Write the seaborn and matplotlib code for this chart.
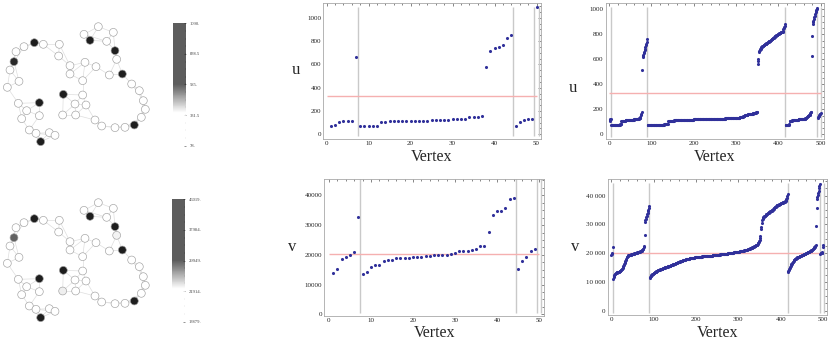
import numpy as np
import pandas as pd
import matplotlib
matplotlib.use("Agg")
import matplotlib.pyplot as plt
import seaborn as sns
from matplotlib.colors import LinearSegmentedColormap, Normalize
from matplotlib.ticker import MultipleLocator, FixedLocator
import matplotlib.colorbar as mcolorbar

sns.set_style("white")
plt.rcParams['font.family'] = ['Liberation Serif', 'DejaVu Serif']

# ---------------- data: 50-vertex graph ----------------
u50 = [71, 77, 106, 111, 111, 117, 666, 71, 71, 71, 74, 74, 106, 108, 111, 111, 114, 114, 114, 114,
       114, 114, 117, 117, 120, 120, 120, 123, 123, 131, 134, 134, 134, 146, 149, 151, 157, 574, 711, 737,
       751, 763, 831, 851, 71, 108, 120, 131, 134, 1089]
v50 = [13940, 15180, 18700, 19150, 19830, 20850, 32630, 13600, 14280, 15860, 16430, 16540, 18020, 18130, 18240,
       18810, 18920, 18920, 19040, 19150, 19260, 19380, 19600, 19720, 19830, 19830, 19940, 20060, 20280, 20620,
       21300, 21300, 21300, 21640, 21870, 23000, 23120, 27760, 33430, 34670, 34900, 35700, 38640, 39090, 15180,
       17790, 19150, 21300, 21870, 46019]
bounds50 = [7.5, 44.5, 49.5, 50.5]
u_thr = 331
v_thr = 20200
u_range = (78, 1090)
v_range = (13879, 46019)
u_cb_ticks = [78, 331.5, 585, 838.5, 1090]
u_cb_labels = ['78.', '331.5', '585.', '838.5', '1090.']
v_cb_ticks = [13879, 21914, 29949, 37984, 46019]
v_cb_labels = ['13879.', '21914.', '29949.', '37984.', '46019.']

# graph layout (node positions) and vertex of each node
node_x = [103, 270, 345, 42, 367, 190, 118, 403, 122,
          295, 340, 252, 320, 130, 178, 72, 48, 176, 350,
          30, 255, 210, 288, 328, 210, 248, 57, 22, 395,
          418, 248, 430, 55, 225, 258, 436, 80, 118, 188,
          227, 65, 424, 285, 305, 345, 375, 88, 108, 148, 165]
node_y = [128, 121, 152, 185, 222, 283, 308, 375, 425,
          80, 97, 103, 124, 133, 133, 140, 155, 168, 178,
          210, 187, 197, 200, 225, 222, 242, 244, 262, 252,
          272, 285, 302, 310, 312, 315, 328, 332, 347, 345,
          345, 356, 352, 360, 378, 383, 382, 390, 400, 398, 406]
node_vertex = [7, 39, 40, 38, 41, 42, 43, 44, 50,
               1, 2, 3, 4, 5, 6, 8, 9, 10, 36,
               11, 12, 13, 14, 15, 16, 17, 18, 19, 20,
               21, 22, 23, 24, 25, 26, 27, 28, 29, 37,
               30, 31, 32, 33, 34, 35, 45, 46, 47, 48, 49]

# ---------------- data: 500-vertex graph ----------------
uA = [108, 115, 120, 125]
uB = [72, 72, 72, 73, 73, 73, 74, 74, 74, 74, 75, 75, 75, 75, 76, 76, 76, 77, 77, 78, 78, 79, 81, 84,
      104, 105, 106, 107, 108, 108, 109, 109, 110, 110, 111, 111, 112, 112, 113, 113, 113, 114, 114, 115, 115,
      115, 116, 116, 116, 117, 117, 118, 118, 118, 119, 119, 120, 120, 121, 121, 122, 122, 123, 124, 125, 126,
      127, 128, 129,
      138, 152, 166, 182,
      512, 618, 628, 638, 648, 660, 672, 686, 700, 712, 724, 742, 760]
uC = [72, 72, 72, 72, 72, 73, 73, 73, 73, 73, 73, 74, 74, 74, 74, 74, 74, 75, 75, 75, 75, 75, 75, 76, 76,
      76, 76, 76, 76, 77, 77, 77, 77, 77, 78, 78, 78, 78, 78, 79, 79, 79, 79, 80, 80, 80, 82, 82, 84,
      105, 106, 107, 107, 108, 108, 108, 109, 109, 109, 110, 110, 110, 110, 111, 111, 111, 111, 112, 112,
      112, 112, 113, 113, 113, 113, 113, 114, 114, 114, 114, 114, 115, 115, 115, 115, 115, 115, 116, 116,
      116, 116, 116, 116, 116, 117, 117, 117, 117, 117, 117, 117, 118, 118, 118, 118, 118, 118, 118, 118,
      119, 119, 119, 119, 119, 119, 119, 119, 120, 120, 120, 120, 120, 120, 120, 120, 120, 121, 121, 121,
      121, 121, 121, 121, 121, 121, 121, 122, 122, 122, 122, 122, 122, 122, 122, 122, 122, 123, 123, 123,
      123, 123, 123, 123, 123, 123, 123, 123, 124, 124, 124, 124, 124, 124, 124, 124, 124, 125, 125, 125,
      125, 125, 125, 125, 125, 125, 125, 126, 126, 126, 126, 126, 126, 126, 126, 127, 127, 127, 127, 127,
      127, 127, 128, 128, 128, 128, 128, 128, 129, 129, 129, 129, 129, 130, 130, 130, 130, 130, 131, 131,
      131, 131, 132, 132, 132, 133, 133, 134, 134, 135, 136, 137, 138, 139, 140, 141, 142, 143, 144,
      148, 150, 152, 153, 154, 155, 156, 157, 158, 159, 160, 160, 161, 162, 162, 163, 164, 164, 165, 166,
      166, 167, 168, 168, 169, 170, 171, 172, 173, 175, 177, 180,
      565, 590, 600, 655, 665, 672, 679, 685, 690, 695, 700, 703, 706, 709, 712, 714, 717, 719, 721, 723,
      725, 728, 730, 733, 735, 738, 740, 743, 745, 748, 750, 753, 756, 759, 762, 765, 768, 771, 774, 777,
      780, 783, 786, 789, 792, 794, 796, 798, 800, 802, 805, 807, 809, 811, 813, 815, 816, 818, 820, 822,
      830, 840, 850, 860, 870, 880]
uD = [72, 72, 73, 73, 74, 74, 75, 76, 78, 80,
      106, 107, 108, 109, 110, 110, 111, 112, 112, 113, 113, 114, 114, 115, 115, 116, 116, 117, 117, 118,
      118, 119, 119, 120, 120, 121, 121, 122, 122, 123, 123, 124, 124, 125, 125, 126, 126, 127, 127, 128,
      135, 140, 145, 148, 150, 152, 155, 158, 162, 168, 175, 182,
      630, 790, 880, 895, 910, 920, 935, 950, 960, 975, 985, 995, 1000, 1010]
uE = [130, 140, 145, 150, 155, 160, 165, 170]

vA = [19400, 19700, 20100, 22200]
vB = [11000, 11600, 12200, 12500, 12700, 12900, 13000, 13100, 13200, 13300,
      13350, 13400, 13450, 13500, 13600, 13700, 13800, 13900, 14000, 14200,
      14400, 14600, 14900, 15200, 15500, 15800, 16100, 16500, 16900, 17300,
      17700, 18100, 18500, 18800, 19000, 19100, 19200, 19250, 19300, 19350,
      19400, 19450, 19500, 19550, 19600, 19650, 19700, 19750, 19800, 19850,
      19900, 19950, 20000, 20050, 20100, 20150, 20200, 20250, 20300, 20350,
      20400, 20450, 20500, 20550, 20600, 20700, 20800, 20900, 21000, 21100,
      21300, 21600, 22000, 22400, 26400, 30900, 31500, 32000, 32500, 33000,
      33500, 34000, 34500, 35000, 35700, 36500]
vC = [11500, 11800, 12000, 12200, 12300, 12500, 12600, 12700, 12850, 13000,
      13100, 13200, 13300, 13400, 13500, 13600, 13700, 13800, 13900, 14000,
      14060, 14120, 14180, 14240, 14300, 14360, 14420, 14480, 14540, 14600,
      14660, 14720, 14780, 14840, 14900, 14960, 15020, 15080, 15140, 15200,
      15250, 15300, 15350, 15400, 15450, 15500, 15550, 15600, 15650, 15700,
      15760, 15820, 15880, 15940, 16000, 16060, 16120, 16180, 16240, 16300,
      16370, 16440, 16510, 16580, 16650, 16720, 16790, 16860, 16930, 17000,
      17050, 17100, 17150, 17200, 17250, 17300, 17350, 17400, 17450, 17500,
      17550, 17600, 17650, 17700, 17750, 17800, 17850, 17900, 17950, 18000,
      18030, 18060, 18090, 18120, 18150, 18180, 18210, 18240, 18270, 18300,
      18330, 18360, 18390, 18420, 18450, 18480, 18510, 18540, 18570, 18600,
      18620, 18630, 18650, 18670, 18680, 18700, 18720, 18730, 18750, 18760,
      18780, 18790, 18810, 18820, 18840, 18850, 18870, 18880, 18890, 18900,
      18920, 18930, 18950, 18960, 18980, 18990, 19010, 19020, 19040, 19050,
      19070, 19080, 19100, 19110, 19130, 19140, 19160, 19170, 19190, 19200,
      19220, 19240, 19260, 19280, 19300, 19320, 19340, 19360, 19380, 19400,
      19420, 19440, 19460, 19480, 19500, 19520, 19540, 19560, 19580, 19600,
      19620, 19640, 19660, 19680, 19700, 19720, 19740, 19760, 19780, 19800,
      19820, 19840, 19860, 19880, 19900, 19920, 19940, 19960, 19980, 20000,
      20030, 20050, 20080, 20100, 20130, 20150, 20180, 20200, 20230, 20250,
      20280, 20300, 20330, 20350, 20380, 20400, 20430, 20450, 20480, 20500,
      20530, 20560, 20590, 20620, 20650, 20680, 20710, 20740, 20770, 20800,
      20840, 20880, 20920, 20960, 21000, 21040, 21080, 21120, 21160, 21200,
      21260, 21320, 21380, 21440, 21500, 21560, 21620, 21680, 21740, 21800,
      21880, 21960, 22040, 22120, 22200, 22280, 22360, 22440, 22520, 22600,
      22700, 22800, 22900, 23000, 23200, 23400, 23600, 23900, 24200, 24600,
      25200, 26000, 28300, 29000, 30500, 31500, 31900, 32200, 32400, 32600,
      32750, 32900, 33050, 33200, 33350, 33500, 33600, 33700, 33850, 34000,
      34100, 34200, 34300, 34400, 34500, 34600, 34700, 34800, 34900, 35000,
      35150, 35300, 35450, 35600, 35750, 35900, 36050, 36200, 36350, 36500,
      36580, 36660, 36740, 36820, 36900, 36980, 37060, 37140, 37220, 37300,
      37370, 37440, 37510, 37580, 37650, 37720, 37790, 37860, 37930, 38000,
      38200, 38500, 38900, 39300, 39900, 40700]
vD = [13500, 13900, 14300, 14600, 14900, 15200, 15500, 15800, 16100, 16400,
      16650, 16900, 17100, 17300, 17500, 17650, 17800, 17950, 18100, 18200,
      18300, 18400, 18500, 18580, 18660, 18740, 18820, 18900, 18970, 19040,
      19110, 19180, 19250, 19320, 19390, 19460, 19530, 19600, 19670, 19740,
      19810, 19880, 19950, 20020, 20090, 20160, 20230, 20300, 20380, 20460,
      20540, 20620, 20700, 20800, 20900, 21000, 21100, 21250, 21400, 21550,
      21700, 21900, 22100, 22300, 22600, 23000,
      29500, 35800, 38800, 39600, 40300, 41000, 41700, 42500, 43300, 44100]
vE = [19800, 19900, 20000, 20100, 20200, 20400, 22300, 22700]
bounds500 = [4.5, 90.5, 416.5, 492.5, 500.5]

u500 = uA + uB + uC + uD + uE
v500 = vA + vB + vC + vD + vE

# ---------------- figure ----------------
W, H = 830, 346
fig = plt.figure(figsize=(W / 100, H / 100), dpi=100)
fig.patch.set_facecolor('white')


def rect(l, t, r, b):
    return [l / W, 1 - b / H, (r - l) / W, (b - t) / H]


DOT = '#30309a'
GREY = '#c9c9c9'
RED = '#f5b0b0'

node_cmap = LinearSegmentedColormap.from_list(
    'g', [(0.0, '#ffffff'), (0.27, '#ffffff'), (0.5, '#1e1e1e'), (1.0, '#1e1e1e')])

# edges from layout: each node linked to its nearest neighbours
P = np.c_[node_x, node_y].astype(float)
D = np.hypot(P[:, None, 0] - P[None, :, 0], P[:, None, 1] - P[None, :, 1])
edges = set()
for i in range(len(P)):
    for j in np.argsort(D[i])[1:4]:
        if D[i, j] < 75:
            edges.add(tuple(sorted((i, int(j)))))


def draw_graph(top, values, vrange):
    ax = fig.add_axes(rect(0, top, 160, top + 160))
    for i, j in edges:
        ax.plot([node_x[i], node_x[j]], [node_y[i], node_y[j]], color='#dedede', lw=0.5, zorder=1)
    norm = Normalize(*vrange)
    cols = [node_cmap(norm(values[v - 1])) for v in node_vertex]
    ax.scatter(node_x, node_y, s=32, c=cols, edgecolors='#a0a0a0', linewidths=0.45, zorder=2)
    ax.set_xlim(0, 480)
    ax.set_ylim(480, 0)
    ax.axis('off')


def draw_cbar(l, t, r, b, vrange, ticks, labels):
    cax = fig.add_axes(rect(l, t, r, b))
    cb = mcolorbar.Colorbar(cax, cmap=node_cmap, norm=Normalize(*vrange), alpha=0.72)
    cb.outline.set_visible(False)
    cb.set_ticks(ticks)
    cb.set_ticklabels(labels)
    cax.yaxis.set_minor_locator(FixedLocator(np.linspace(vrange[0], vrange[1], 17)))
    cax.tick_params(which='major', labelsize=3.3, length=1.6, width=0.4, direction='in',
                    pad=2.5, colors='#444444')
    cax.tick_params(which='minor', length=1.0, width=0.3, direction='in', colors='#444444')


def draw_scatter(r, n, vals, bounds, thr, xlim, ylim, vspan, ymajor, yminor, xmajor, xminor,
                 ylab, ylab_xy, xlab_y, yfmt=None):
    ax = fig.add_axes(rect(*r))
    df = pd.DataFrame({'Vertex': np.arange(1, n + 1), 'val': vals})
    ax.vlines(bounds, vspan[0], vspan[1], color=GREY, lw=1.0, zorder=1)
    ax.hlines(thr, 0, n, color=RED, lw=1.0, zorder=1)
    sns.scatterplot(data=df, x='Vertex', y='val', ax=ax, s=5, color=DOT, linewidth=0, zorder=3)
    ax.set_xlim(*xlim)
    ax.set_ylim(*ylim)
    ax.set_xlabel('')
    ax.set_ylabel('')
    ax.xaxis.set_major_locator(MultipleLocator(xmajor))
    ax.xaxis.set_minor_locator(MultipleLocator(xminor))
    ax.yaxis.set_major_locator(MultipleLocator(ymajor))
    ax.yaxis.set_minor_locator(MultipleLocator(yminor))
    if yfmt is not None:
        ax.yaxis.set_major_formatter(yfmt)
    for s in ax.spines.values():
        s.set_color('#a8a8a8')
        s.set_linewidth(0.6)
    ax.tick_params(which='both', direction='in', top=True, right=True, colors='#555555',
                   labelsize=5, pad=1.5, width=0.5)
    ax.tick_params(which='major', length=2.5)
    ax.tick_params(which='minor', length=1.5)
    ax.tick_params(labelcolor='#222222')
    x0 = (r[0] + r[2]) / 2
    fig.text(x0 / W, 1 - xlab_y / H, 'Vertex', ha='center', va='center', fontsize=11.5)
    fig.text(ylab_xy[0] / W, 1 - ylab_xy[1] / H, ylab, ha='center', va='center', fontsize=12)
    return ax


thin_fmt = matplotlib.ticker.FuncFormatter(
    lambda x, p: '0' if x == 0 else f'{int(x):,}'.replace(',', ' '))

# top row
draw_graph(0, u50, u_range)
draw_cbar(172.7, 23.3, 186, 145.7, u_range, u_cb_ticks, u_cb_labels)
draw_scatter((323.3, 2.7, 540.7, 139.3), 50, u50, bounds50, u_thr, (-0.8, 51.0), (-43, 1130),
             (-14, 1090), 200, 50, 10, 2, 'u', (296, 70), 157)
draw_scatter((605.7, 2.7, 824.0, 139.3), 500, u500, bounds500, u_thr, (-8, 508), (-40, 1053),
             (-19, 1016), 200, 50, 100, 20, 'u', (573, 88), 157)

# bottom row
draw_graph(176, v50, v_range)
draw_cbar(171.7, 199.3, 185, 321.7, v_range, v_cb_ticks, v_cb_labels)
draw_scatter((324.3, 179.3, 544.0, 316.0), 50, v50, bounds50, v_thr, (-1.1, 51.2), (-570, 45400),
             (340, 45400), 10000, 2500, 10, 2, 'v', (292, 247), 333)
draw_scatter((607.7, 179.3, 826.7, 315.0), 500, v500, bounds500, v_thr, (-7.9, 508), (-1500, 45680),
             (-700, 44300), 10000, 2500, 100, 20, 'v', (575, 247), 333, yfmt=thin_fmt)

fig.savefig('out.png', dpi=100, facecolor='white')
